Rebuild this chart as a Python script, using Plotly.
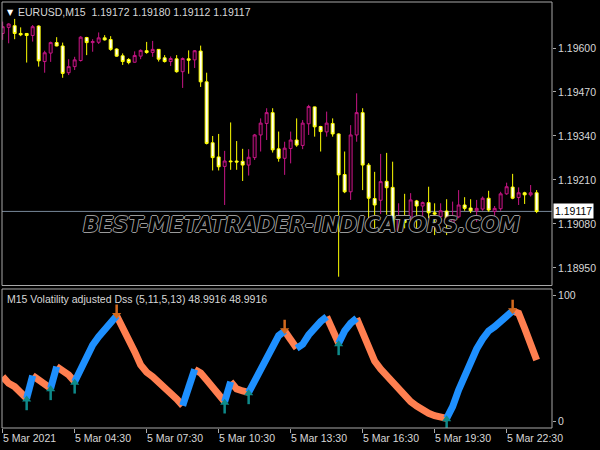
import plotly.graph_objects as go

# ---------------- data ----------------
bars = list(range(90))
opens = [1.19643, 1.19661, 1.19666, 1.19643, 1.19643, 1.19637, 1.19665, 1.19560, 1.19585, 1.19616,
         1.19606, 1.19527, 1.19545, 1.19563, 1.19631, 1.19616, 1.19617, 1.19630, 1.19625, 1.19597,
         1.19577, 1.19566, 1.19558, 1.19576, 1.19592, 1.19587, 1.19596, 1.19571, 1.19560, 1.19568,
         1.19530, 1.19568, 1.19565, 1.19591, 1.19500, 1.19320, 1.19278, 1.19250, 1.19266, 1.19266,
         1.19265, 1.19254, 1.19276, 1.19343, 1.19377, 1.19409, 1.19302, 1.19274, 1.19303, 1.19328,
         1.19312, 1.19376, 1.19426, 1.19368, 1.19352, 1.19377, 1.19346, 1.19226, 1.19175, 1.19343,
         1.19409, 1.19254, 1.19155, 1.19150, 1.19206, 1.19188, 1.19061, 1.19104, 1.19100, 1.19148,
         1.19133, 1.19143, 1.19113, 1.19102, 1.19118, 1.19078, 1.19101, 1.19136, 1.19127, 1.19119,
         1.19124, 1.19156, 1.19117, 1.19125, 1.19169, 1.19189, 1.19158, 1.19172, 1.19166, 1.19172]
highs = [1.19678, 1.19673, 1.19686, 1.19661, 1.19644, 1.19668, 1.19667, 1.19592, 1.19619, 1.19632,
         1.19616, 1.19567, 1.19574, 1.19635, 1.19633, 1.19626, 1.19646, 1.19638, 1.19635, 1.19599,
         1.19584, 1.19570, 1.19590, 1.19596, 1.19618, 1.19621, 1.19597, 1.19579, 1.19575, 1.19579,
         1.19572, 1.19593, 1.19594, 1.19607, 1.19527, 1.19340, 1.19346, 1.19296, 1.19380, 1.19325,
         1.19302, 1.19301, 1.19346, 1.19392, 1.19422, 1.19422, 1.19353, 1.19323, 1.19353, 1.19392,
         1.19387, 1.19432, 1.19427, 1.19370, 1.19412, 1.19392, 1.19348, 1.19294, 1.19372, 1.19466,
         1.19422, 1.19260, 1.19234, 1.19287, 1.19290, 1.19264, 1.19141, 1.19169, 1.19171, 1.19151,
         1.19146, 1.19190, 1.19141, 1.19141, 1.19153, 1.19146, 1.19180, 1.19159, 1.19153, 1.19151,
         1.19161, 1.19178, 1.19133, 1.19175, 1.19202, 1.19228, 1.19188, 1.19175, 1.19195, 1.19180]
lows = [1.19624, 1.19614, 1.19626, 1.19635, 1.19557, 1.19619, 1.19545, 1.19527, 1.19559, 1.19605,
        1.19512, 1.19520, 1.19535, 1.19560, 1.19579, 1.19589, 1.19612, 1.19622, 1.19592, 1.19574,
        1.19550, 1.19552, 1.19557, 1.19567, 1.19583, 1.19574, 1.19560, 1.19557, 1.19547, 1.19527,
        1.19482, 1.19524, 1.19541, 1.19485, 1.19315, 1.19238, 1.19238, 1.19136, 1.19240, 1.19240,
        1.19207, 1.19223, 1.19269, 1.19294, 1.19328, 1.19291, 1.19264, 1.19225, 1.19259, 1.19308,
        1.19301, 1.19343, 1.19338, 1.19294, 1.19338, 1.19338, 1.18924, 1.19171, 1.19151, 1.19323,
        1.19180, 1.19068, 1.19062, 1.19109, 1.19107, 1.19057, 1.19057, 1.19067, 1.19067, 1.19064,
        1.19077, 1.19097, 1.19047, 1.19082, 1.19047, 1.19070, 1.19097, 1.19119, 1.19112, 1.19086,
        1.19119, 1.19116, 1.19104, 1.19119, 1.19166, 1.19153, 1.19136, 1.19139, 1.19161, 1.19112]
closes = [1.19663, 1.19671, 1.19643, 1.19639, 1.19637, 1.19663, 1.19562, 1.19586, 1.19616, 1.19606,
          1.19525, 1.19545, 1.19565, 1.19632, 1.19616, 1.19619, 1.19630, 1.19624, 1.19596, 1.19576,
          1.19560, 1.19557, 1.19578, 1.19593, 1.19587, 1.19596, 1.19567, 1.19560, 1.19569, 1.19530,
          1.19569, 1.19564, 1.19592, 1.19500, 1.19318, 1.19276, 1.19249, 1.19266, 1.19264, 1.19263,
          1.19254, 1.19277, 1.19343, 1.19378, 1.19409, 1.19299, 1.19274, 1.19304, 1.19328, 1.19313,
          1.19378, 1.19427, 1.19367, 1.19353, 1.19378, 1.19346, 1.19225, 1.19175, 1.19343, 1.19409,
          1.19254, 1.19156, 1.19136, 1.19205, 1.19187, 1.19060, 1.19104, 1.19084, 1.19151, 1.19133,
          1.19143, 1.19113, 1.19109, 1.19119, 1.19087, 1.19101, 1.19136, 1.19126, 1.19119, 1.19126,
          1.19156, 1.19121, 1.19126, 1.19169, 1.19190, 1.19156, 1.19172, 1.19166, 1.19172, 1.19117]
dss = [35.7, 30.5, 27.8, 23.8, 18.5, 36.5, 33.1, 30.5, 26.5, 43.7,
       41.0, 37.1, 31.7, 42.4, 52.4, 60.9, 67.5, 73.6, 79.9, 84.1,
       75.4, 66.2, 55.6, 45.0, 39.2, 35.7, 31.7, 27.8, 23.3, 18.0,
       12.7, 29.1, 41.5, 38.6, 33.1, 27.8, 22.5, 15.9, 31.7, 26.0,
       24.4, 23.3, 32.3, 42.4, 52.4, 60.9, 68.3, 72.0, 64.8, 58.3,
       61.4, 68.8, 74.6, 79.4, 83.3, 74.1, 62.2, 72.0, 78.1, 82.1,
       71.4, 59.5, 48.1, 41.8, 36.5, 31.2, 25.2, 20.4, 15.9, 12.4,
       9.3, 6.7, 4.8, 3.7, 2.7, 11.9, 25.2, 37.1, 48.1, 57.7,
       65.6, 72.0, 75.4, 79.9, 84.1, 87.9, 86.0, 74.1, 61.4, 48.99]
up_arrows = [4, 8, 12, 37, 41, 56, 74]
down_arrows = [19, 47, 85]
price_ticks = [1.19600, 1.19470, 1.19340, 1.19210, 1.19080, 1.18950]
ind_ticks = [0, 100]
time_tick_idx = [0, 12, 24, 36, 48, 60, 72, 84]
time_tick_labels = ["5 Mar 2021", "5 Mar 04:30", "5 Mar 07:30", "5 Mar 10:30",
                    "5 Mar 13:30", "5 Mar 16:30", "5 Mar 19:30", "5 Mar 22:30"]
symbol_title = "EURUSD,M15"
ind_title = "M15 Volatility adjusted Dss (5,11,5,13) 48.9916 48.9916"
watermark = "BEST-METATRADER-INDICATORS.COM"

# ---------------- styling ----------------
FONT = "Liberation Sans, Arial, sans-serif"
FS = 10.5
TXT = "#d8d8d8"
FRAME = "#a8a8a8"
BLUE = "#1E90FF"
CORAL = "#FF7F50"
UPC = "#0E8A8A"
DNC = "#D2691E"

fig = go.Figure()

fig.add_trace(go.Candlestick(
    x=bars, open=opens, high=highs, low=lows, close=closes,
    increasing=dict(line=dict(color="#C71585", width=1), fillcolor="#1a0012"),
    decreasing=dict(line=dict(color="#FFFF00", width=1), fillcolor="#FFFFFF"),
    whiskerwidth=0, showlegend=False, hoverinfo="skip", xaxis="x", yaxis="y"))

# colored DSS line segments
bx, by, cx, cy = [], [], [], []
i = 1
while i < len(dss):
    rising = dss[i] > dss[i - 1]
    j = i
    while j + 1 < len(dss) and (dss[j + 1] > dss[j]) == rising:
        j += 1
    xs = bars[i - 1:j + 1]
    ys = dss[i - 1:j + 1]
    if rising:
        bx += xs + [None]; by += ys + [None]
    else:
        cx += xs + [None]; cy += ys + [None]
    i = j + 1

fig.add_trace(go.Scatter(x=cx, y=cy, mode="lines", line=dict(color=CORAL, width=7),
                         xaxis="x", yaxis="y2", showlegend=False, hoverinfo="skip"))
fig.add_trace(go.Scatter(x=bx, y=by, mode="lines", line=dict(color=BLUE, width=7),
                         xaxis="x", yaxis="y2", showlegend=False, hoverinfo="skip"))

# arrow signals: shaft + head
fig.add_trace(go.Scatter(x=up_arrows, y=[dss[k] - 5.5 for k in up_arrows], mode="markers",
                         marker=dict(symbol="line-ns", size=7, line=dict(color=UPC, width=2.5)),
                         xaxis="x", yaxis="y2", showlegend=False, hoverinfo="skip"))
fig.add_trace(go.Scatter(x=up_arrows, y=[dss[k] - 0.8 for k in up_arrows], mode="markers",
                         marker=dict(symbol="triangle-up", size=8, color=UPC, line=dict(width=0)),
                         xaxis="x", yaxis="y2", showlegend=False, hoverinfo="skip"))
fig.add_trace(go.Scatter(x=down_arrows, y=[dss[k] + 5.0 for k in down_arrows], mode="markers",
                         marker=dict(symbol="line-ns", size=7, line=dict(color=DNC, width=2.5)),
                         xaxis="x", yaxis="y2", showlegend=False, hoverinfo="skip"))
fig.add_trace(go.Scatter(x=down_arrows, y=[dss[k] + 0.5 for k in down_arrows], mode="markers",
                         marker=dict(symbol="triangle-down", size=8, color=DNC, line=dict(width=0)),
                         xaxis="x", yaxis="y2", showlegend=False, hoverinfo="skip"))

P_BOT = 0.3345
I_TOP = 0.3263

shapes = [
    dict(type="rect", xref="paper", yref="paper", x0=0, x1=1, y0=P_BOT, y1=1,
         line=dict(color=FRAME, width=1), layer="above"),
    dict(type="rect", xref="paper", yref="paper", x0=0, x1=1, y0=0, y1=I_TOP,
         line=dict(color=FRAME, width=1), layer="above"),
    dict(type="line", xref="paper", yref="y", x0=0, x1=1, y0=closes[-1], y1=closes[-1],
         line=dict(color="#778899", width=1), layer="below"),
]

annotations = [
    dict(xref="paper", yref="paper", x=0, y=1, xanchor="left", yanchor="top", xshift=3, yshift=-4,
         text="▼", showarrow=False, font=dict(family="DejaVu Sans", size=8, color="#ffffff")),
    dict(xref="paper", yref="paper", x=0, y=1, xanchor="left", yanchor="top", xshift=14, yshift=-2,
         text=f"{symbol_title}  {opens[-1]:.5f} {highs[-1]:.5f} {lows[-1]:.5f} {closes[-1]:.5f}",
         showarrow=False, font=dict(family=FONT, size=FS, color=TXT)),
    dict(xref="paper", yref="paper", x=0, y=I_TOP, xanchor="left", yanchor="top", xshift=3, yshift=-2,
         text=ind_title, showarrow=False, font=dict(family=FONT, size=FS, color=TXT)),
    dict(xref="paper", yref="y", x=1, y=closes[-1], xanchor="left", yanchor="middle", xshift=1,
         text=f"{closes[-1]:.5f}", showarrow=False, bgcolor="#ffffff", borderpad=1,
         font=dict(family=FONT, size=FS, color="#000000")),
    dict(xref="paper", yref="paper", x=0.545, y=0.4765, xanchor="center", yanchor="middle",
         text=watermark, showarrow=False,
         font=dict(family="DejaVu Sans", size=21, style="italic", weight="bold", color="#000000",
                   shadow="1px 0 0 #9a9a9a, -1px 0 0 #9a9a9a, 0 1px 0 #9a9a9a, 0 -1px 0 #9a9a9a")),
]
for idx, lab in zip(time_tick_idx, time_tick_labels):
    annotations.append(dict(xref="x", yref="paper", x=idx, y=0, xanchor="left", yanchor="top",
                            xshift=-2, yshift=-2, text=lab, showarrow=False,
                            font=dict(family=FONT, size=FS, color=TXT)))

fig.update_layout(
    width=600, height=450,
    margin=dict(l=2, r=48, t=2, b=22),
    paper_bgcolor="#000000", plot_bgcolor="#000000",
    showlegend=False, hovermode=False,
    xaxis=dict(domain=[0, 1], range=[-0.11, 91.56], anchor="y2", showgrid=False, zeroline=False,
               showticklabels=False, ticks="outside", tickvals=time_tick_idx, ticklen=4,
               tickcolor=FRAME, showline=False, rangeslider=dict(visible=False), fixedrange=True),
    yaxis=dict(domain=[P_BOT, 1], range=[1.18898, 1.19736], side="right", anchor="x",
               tickvals=price_ticks, ticktext=[f"{v:.5f}" for v in price_ticks],
               ticks="outside", ticklen=3, tickcolor=FRAME, showgrid=False, zeroline=False,
               tickfont=dict(family=FONT, size=FS, color=TXT), showline=False, fixedrange=True),
    yaxis2=dict(domain=[0, I_TOP], range=[-5.0, 105.3], side="right", anchor="x",
                tickvals=ind_ticks, ticktext=[str(v) for v in ind_ticks],
                ticks="outside", ticklen=3, tickcolor=FRAME, showgrid=False, zeroline=False,
                tickfont=dict(family=FONT, size=FS, color=TXT), showline=False, fixedrange=True),
    shapes=shapes, annotations=annotations,
)

fig.write_html("out.html", config={"displayModeBar": False, "staticPlot": True},
               post_script="document.body.style.margin='0px';document.body.style.padding='0px';"
                           "document.documentElement.style.overflow='hidden';")
